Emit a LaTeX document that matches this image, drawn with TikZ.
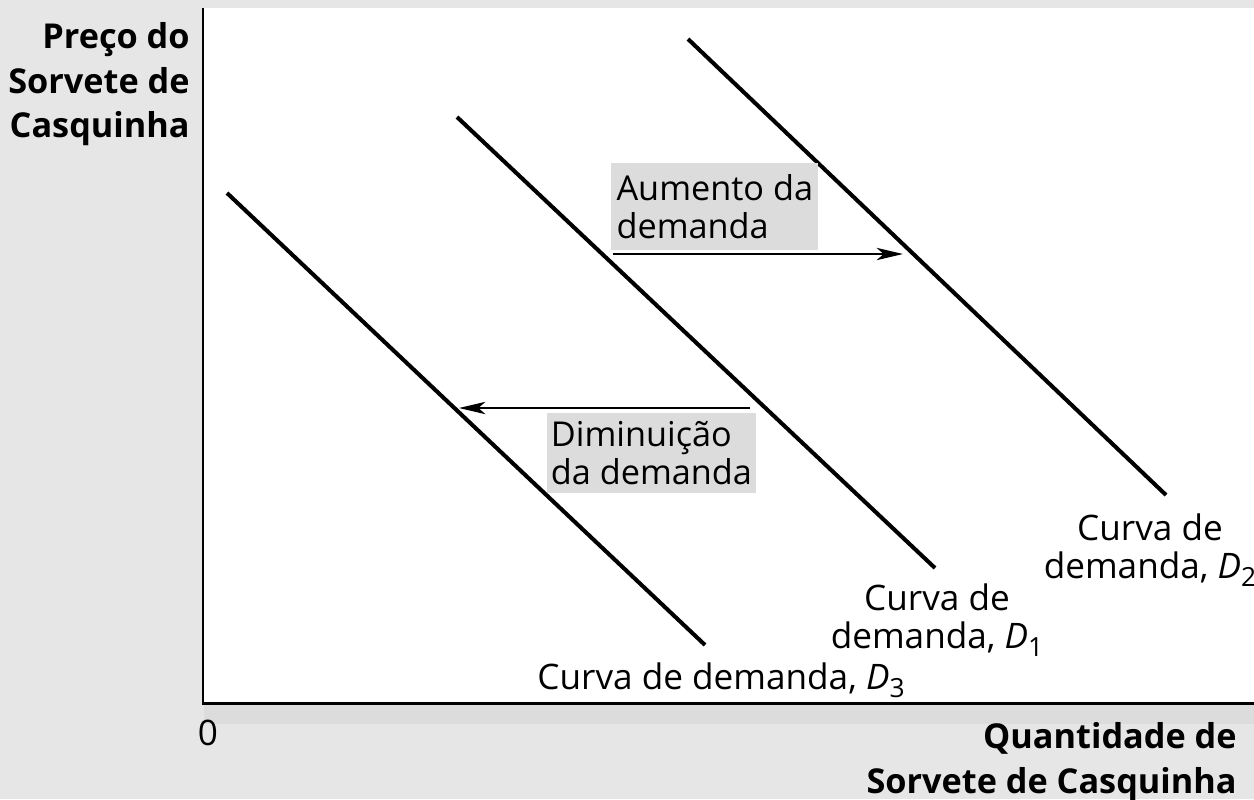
\documentclass[tikz,border=0pt]{standalone}
\usepackage{fontspec}
\setmainfont{Open Sans}
\usetikzlibrary{arrows.meta}
\definecolor{pagegray}{HTML}{E6E6E6}
\definecolor{boxgray}{HTML}{DCDCDD}
\newcommand{\Dsub}[1]{\textit{D}\raisebox{-0.45ex}{\fontsize{15}{15}\selectfont #1}}
\begin{document}
\begin{tikzpicture}[x=0.02cm, y=-0.02cm,
		curve/.style={line width=2.3pt},
		shiftarrow/.style={line width=1.3pt, -{Stealth[length=15pt,width=7pt,inset=4pt]}},
		note/.style={fill=boxgray, align=left, anchor=north west, inner xsep=2pt, inner ysep=0pt,
			font=\fontsize{19.5}{21.5}\selectfont},
		curvelabel/.style={align=center, font=\fontsize{20}{21.5}\selectfont, inner sep=0pt},
		axislabel/.style={font=\bfseries\fontsize{19.5}{25.5}\selectfont, inner sep=0pt}]
			% background and plot area
			\fill[pagegray] (0, 0) rectangle (1254, 799);
			\fill[white] (204, 8) rectangle (1254, 703);
			\fill[boxgray] (204, 703) rectangle (1254, 724);
			\useasboundingbox (0, 0) rectangle (1254, 799);
			\draw[line width=1.7pt] (203, 8) -- (203, 703) -- (1254, 703);
			% demand curves
			\coordinate (D3a) at (227, 193);
			\coordinate (D3b) at (705, 645);
			\coordinate (D1a) at (457, 117);
			\coordinate (D1b) at (935, 568);
			\coordinate (D2a) at (688, 39);
			\coordinate (D2b) at (1166, 495);
			\draw[curve] (D3a) -- (D3b);
			\draw[curve] (D1a) -- (D1b);
			\draw[curve] (D2a) -- (D2b);
			% shifts
			\node[note, minimum width=4.14cm, minimum height=1.74cm] (up) at (611, 163) {Aumento da\\demanda};
			\node[note, minimum width=4.16cm, minimum height=1.6cm] (down) at (547, 413) {Diminuição\\da demanda};
			\coordinate (upA) at (613, 254);
			\coordinate (upB) at (903, 254);
			\coordinate (downA) at (750, 408);
			\coordinate (downB) at (459, 408);
			\draw[shiftarrow] (upA) -- (upB);
			\draw[shiftarrow] (downA) -- (downB);
			% labels
			\node[curvelabel] (L2) at (1150, 550) {Curva de\\demanda, \Dsub{2}};
			\node[curvelabel] (L1) at (937, 620) {Curva de\\demanda, \Dsub{1}};
			\node[curvelabel] (L3) at (721, 680) {Curva de demanda, \Dsub{3}};
			\node[axislabel, align=right, anchor=north east] (ylab) at (190, 22) {Preço do\\Sorvete de\\Casquinha};
			\node[axislabel, align=right, anchor=north east] (xlab) at (1237, 722) {Quantidade de\\Sorvete de Casquinha};
			\node[font=\fontsize{20}{20}\selectfont, inner sep=0pt] (zero) at (208, 733) {0};
		\end{tikzpicture}
\end{document}
